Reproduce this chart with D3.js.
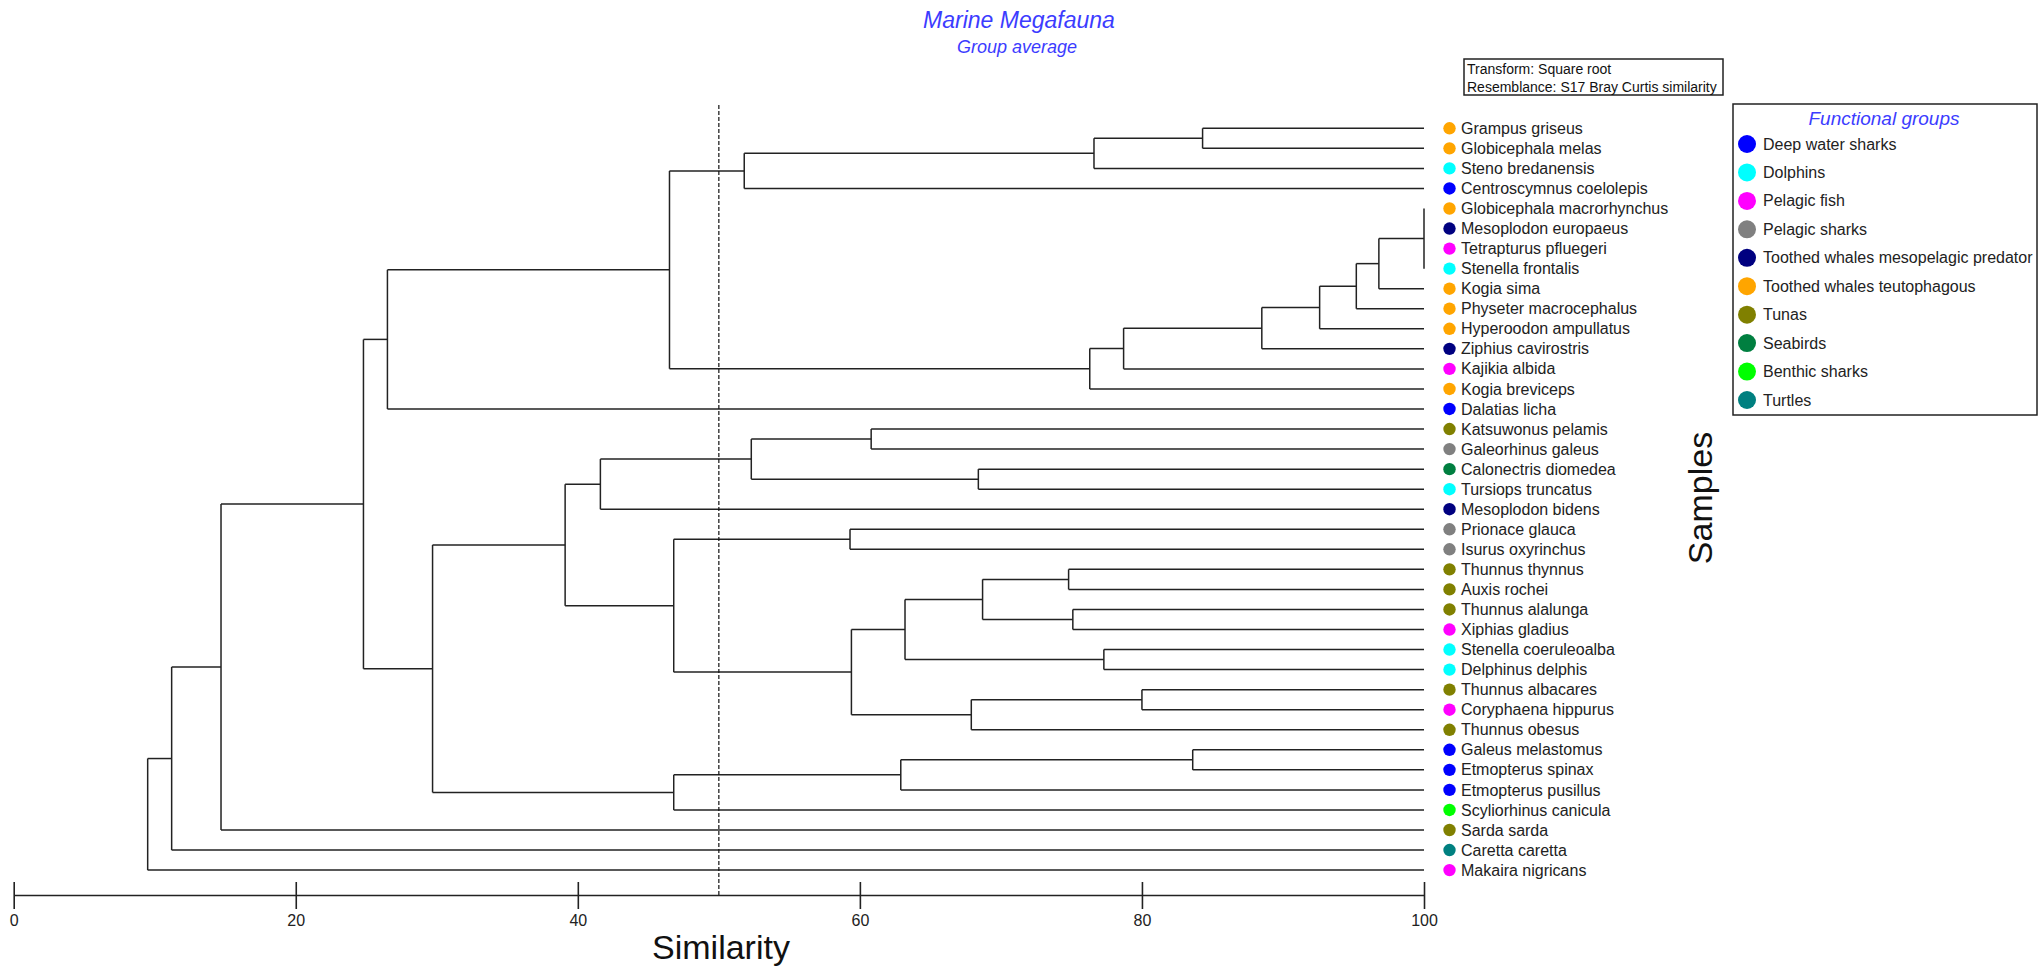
<!DOCTYPE html>
<html>
<head>
<meta charset="utf-8">
<script src="https://cdn.jsdelivr.net/npm/d3@7"></script>
<style>
  html, body { margin: 0; padding: 0; background: #fff; }
  svg { display: block; font-family: 'Liberation Sans', Arial, sans-serif; }
</style>
</head>
<body>
<div id="chart"></div>
<script>
// samples, top to bottom as in the dendrogram
var leaves = [
  'Grampus griseus', 'Globicephala melas', 'Steno bredanensis', 'Centroscymnus coelolepis',
  'Globicephala macrorhynchus', 'Mesoplodon europaeus', 'Tetrapturus pfluegeri', 'Stenella frontalis',
  'Kogia sima', 'Physeter macrocephalus', 'Hyperoodon ampullatus', 'Ziphius cavirostris',
  'Kajikia albida', 'Kogia breviceps', 'Dalatias licha', 'Katsuwonus pelamis',
  'Galeorhinus galeus', 'Calonectris diomedea', 'Tursiops truncatus', 'Mesoplodon bidens',
  'Prionace glauca', 'Isurus oxyrinchus', 'Thunnus thynnus', 'Auxis rochei',
  'Thunnus alalunga', 'Xiphias gladius', 'Stenella coeruleoalba', 'Delphinus delphis',
  'Thunnus albacares', 'Coryphaena hippurus', 'Thunnus obesus', 'Galeus melastomus',
  'Etmopterus spinax', 'Etmopterus pusillus', 'Scyliorhinus canicula', 'Sarda sarda',
  'Caretta caretta', 'Makaira nigricans'
];

var groups = [
  'Deep water sharks', 'Dolphins', 'Pelagic fish', 'Pelagic sharks',
  'Toothed whales mesopelagic predator', 'Toothed whales teutophagous',
  'Tunas', 'Seabirds', 'Benthic sharks', 'Turtles'
];
var groupColors = [
  '#0000ff', '#00ffff', '#ff00ff', '#808080', '#000080',
  '#ffa500', '#808000', '#007f40', '#00ff00', '#008080'
];

// functional group index of each sample
var leafGroup = [
  5, 5, 1, 0, 5, 4, 2, 1, 5, 5, 5, 4, 2, 5, 0, 6, 3, 7, 1, 4,
  3, 3, 6, 6, 6, 2, 1, 1, 6, 2, 6, 0, 0, 0, 8, 6, 9, 2
];

// merges: negative = sample (1-based), positive = earlier merge row (1-based)
var merges = [
  [[-1, -2], 84.3],
  [[1, -3], 76.6],
  [[2, -4], 51.8],
  [[-5, -6, -7, -8], 100],
  [[4, -9], 96.8],
  [[5, -10], 95.2],
  [[6, -11], 92.6],
  [[7, -12], 88.5],
  [[8, -13], 78.7],
  [[9, -14], 76.3],
  [[3, 10], 46.5],
  [[11, -15], 26.5],
  [[-16, -17], 60.8],
  [[-18, -19], 68.4],
  [[13, 14], 52.3],
  [[15, -20], 41.6],
  [[-21, -22], 59.3],
  [[-23, -24], 74.8],
  [[-25, -26], 75.1],
  [[18, 19], 68.7],
  [[-27, -28], 77.3],
  [[20, 21], 63.2],
  [[-29, -30], 80.0],
  [[23, -31], 67.9],
  [[22, 24], 59.4],
  [[17, 25], 46.8],
  [[16, 26], 39.1],
  [[-32, -33], 83.6],
  [[28, -34], 62.9],
  [[29, -35], 46.8],
  [[27, 30], 29.7],
  [[12, 31], 24.8],
  [[32, -36], 14.7],
  [[33, -37], 11.2],
  [[34, -38], 9.5]
];

var axisTicks = [0, 20, 40, 60, 80, 100];
var cutLevel = 50;

var width = 2042, height = 971,
  lineColor = '#222',
  textColor = '#222',
  titleColor = '#3c3cff';

var svg = d3.select('#chart').append('svg')
  .attr('width', width)
  .attr('height', height);

var x = d3.scaleLinear().domain([0, 100]).range([13.7, 1424]),
  y = d3.scalePoint().domain(leaves).range([128.3, 870.1]);

// build nested tree from the merge table
var built = merges.map(function () { return null; });
function ref(r) {
  if (r < 0) {
    return {name: leaves[-r - 1], group: leafGroup[-r - 1], sim: 100};
  }
  return built[r - 1];
}
merges.forEach(function (m, i) {
  built[i] = {sim: m[1], children: m[0].map(ref)};
});

var root = d3.hierarchy(built[built.length - 1]);
root.eachAfter(function (d) {
  d.px = x(d.data.sim);
  d.py = d.children ? d3.mean(d.children, function (c) { return c.py; }) : y(d.data.name);
});

var links = svg.append('g')
  .attr('fill', 'none')
  .attr('stroke', lineColor)
  .attr('stroke-width', 1.5);

root.descendants().filter(function (d) { return d.children; }).forEach(function (d) {
  var ys = d.children.map(function (c) { return c.py; });
  links.append('line')
    .attr('x1', d.px).attr('x2', d.px)
    .attr('y1', d3.min(ys)).attr('y2', d3.max(ys));
  d.children.forEach(function (c) {
    if (c.px > d.px) {
      links.append('line')
        .attr('x1', d.px).attr('x2', c.px)
        .attr('y1', c.py).attr('y2', c.py);
    }
  });
});

// cut line
svg.append('line')
  .attr('x1', x(cutLevel)).attr('x2', x(cutLevel))
  .attr('y1', 105).attr('y2', 895)
  .attr('stroke', '#111')
  .attr('stroke-width', 1.2)
  .attr('stroke-dasharray', '4,2');

// leaf markers and labels
var leafG = svg.append('g')
  .selectAll('g')
  .data(root.leaves())
  .join('g')
  .attr('transform', function (d) { return 'translate(0,' + d.py + ')'; });

leafG.append('circle')
  .attr('cx', 1449.5)
  .attr('r', 6.2)
  .attr('fill', function (d) { return groupColors[d.data.group]; });

leafG.append('text')
  .attr('x', 1461)
  .attr('dy', '0.35em')
  .attr('font-size', 16)
  .attr('fill', textColor)
  .text(function (d) { return d.data.name; });

// axis
var axis = svg.append('g')
  .attr('transform', 'translate(0,895)')
  .call(d3.axisBottom(x).tickValues(axisTicks).tickSizeOuter(0).tickFormat(d3.format('d')));

axis.select('.domain').attr('stroke', lineColor).attr('stroke-width', 1.6);
axis.selectAll('.tick line')
  .attr('y1', -13).attr('y2', 14)
  .attr('stroke', lineColor).attr('stroke-width', 1.6);
axis.selectAll('.tick text')
  .attr('y', 20)
  .attr('font-size', 16)
  .attr('font-family', "'Liberation Sans', Arial, sans-serif")
  .attr('fill', textColor);

svg.append('text')
  .attr('x', 721).attr('y', 959)
  .attr('text-anchor', 'middle')
  .attr('font-size', 34)
  .attr('fill', '#111')
  .text('Similarity');

svg.append('text')
  .attr('transform', 'translate(1712,498) rotate(-90)')
  .attr('text-anchor', 'middle')
  .attr('font-size', 34)
  .attr('fill', '#111')
  .text('Samples');

// titles
svg.append('text')
  .attr('x', 1019).attr('y', 28)
  .attr('text-anchor', 'middle')
  .attr('font-size', 23)
  .attr('font-style', 'italic')
  .attr('fill', titleColor)
  .text('Marine Megafauna');

svg.append('text')
  .attr('x', 1017).attr('y', 53)
  .attr('text-anchor', 'middle')
  .attr('font-size', 18)
  .attr('font-style', 'italic')
  .attr('fill', titleColor)
  .text('Group average');

// info box
var info = svg.append('g');
info.append('clipPath').attr('id', 'infoClip')
  .append('rect').attr('x', 1464).attr('y', 59).attr('width', 259).attr('height', 36);
info.append('rect')
  .attr('x', 1464).attr('y', 59).attr('width', 259).attr('height', 36)
  .attr('fill', '#fff').attr('stroke', lineColor).attr('stroke-width', 1.5);
info.append('g').attr('clip-path', 'url(#infoClip)')
  .selectAll('text')
  .data(['Transform: Square root', 'Resemblance: S17 Bray Curtis similarity'])
  .join('text')
  .attr('x', 1467)
  .attr('y', function (d, i) { return 74 + i * 18; })
  .attr('font-size', 14)
  .attr('fill', '#111')
  .text(function (d) { return d; });

// legend
var legend = svg.append('g');
legend.append('clipPath').attr('id', 'legClip')
  .append('rect').attr('x', 1733).attr('y', 104).attr('width', 304).attr('height', 311);
legend.append('rect')
  .attr('x', 1733).attr('y', 104).attr('width', 304).attr('height', 311)
  .attr('fill', '#fff').attr('stroke', lineColor).attr('stroke-width', 1.5);
legend.append('text')
  .attr('x', 1884).attr('y', 125)
  .attr('text-anchor', 'middle')
  .attr('font-size', 19)
  .attr('font-style', 'italic')
  .attr('fill', titleColor)
  .text('Functional groups');

var legY = d3.scalePoint().domain(groups).range([144, 400]);
var item = legend.append('g').attr('clip-path', 'url(#legClip)')
  .selectAll('g')
  .data(groups)
  .join('g')
  .attr('transform', function (d) { return 'translate(0,' + legY(d) + ')'; });
item.append('circle')
  .attr('cx', 1747).attr('r', 9)
  .attr('fill', function (d, i) { return groupColors[i]; });
item.append('text')
  .attr('x', 1763)
  .attr('dy', '0.35em')
  .attr('font-size', 16)
  .attr('fill', textColor)
  .text(function (d) { return d; });
</script>
</body>
</html>
